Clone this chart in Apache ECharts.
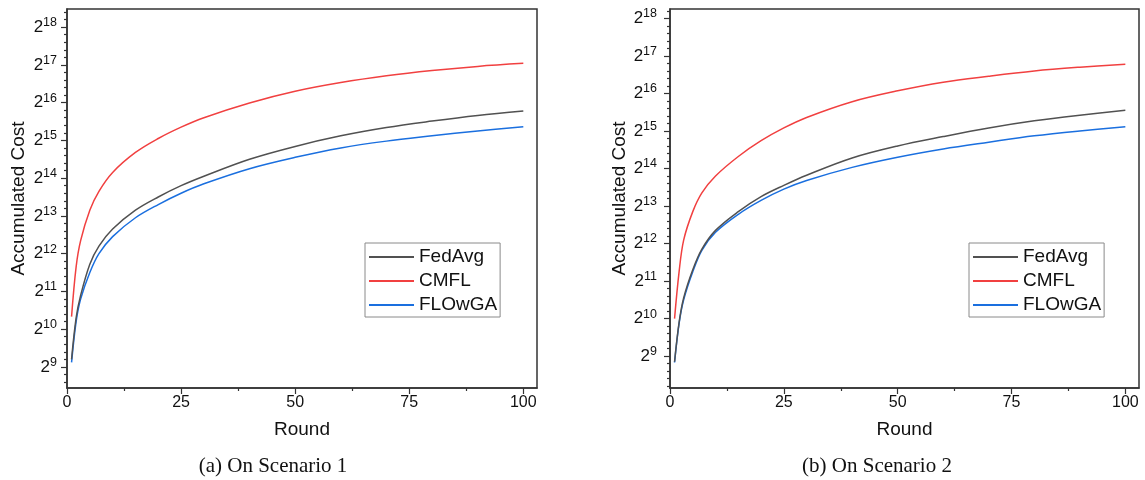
<!DOCTYPE html>
<html><head><meta charset="utf-8">
<script src="https://cdn.jsdelivr.net/npm/echarts@6/dist/echarts.min.js"></script>
<style>html,body{margin:0;padding:0;background:#fff}#c{width:1145px;height:480px}</style>
</head><body><div id="c"></div>
<script>
// Rounds sampled along the curves
const rounds = [1, 2, 3, 5, 7, 10, 15, 20, 25, 30, 40, 50, 60, 70, 80, 90, 100];
// (a) On Scenario 1 — accumulated cost
const fedAvgA = [588, 1261, 1911, 3374, 4705, 6427, 9090, 11585, 14263, 16962, 23170, 29329, 35609, 41478, 46665, 51777, 56266];
const cmflA   = [1287, 3214, 5221, 9090, 12855, 18180, 26249, 33925, 41766, 49667, 65085, 80681, 94627, 107204, 118129, 127487, 134755];
const flowgaA = [556, 1176, 1783, 2896, 4096, 5595, 7913, 10085, 12417, 14766, 19484, 23988, 28526, 32318, 35609, 38968, 42055];
// (b) On Scenario 2 — accumulated cost
const fedAvgB = [461, 955, 1499, 2521, 3691, 5221, 7383, 9742, 11994, 14462, 19894, 24833, 29532, 34636, 39512, 43840, 47976];
const cmflB   = [1024, 2435, 4360, 7383, 10441, 14263, 20452, 27365, 34636, 42055, 56266, 68793, 80681, 90145, 99333, 106463, 112532];
const flowgaB = [455, 936, 1448, 2435, 3616, 5043, 7033, 9090, 11190, 13124, 16728, 20170, 23495, 26616, 29947, 32768, 35363];

const seriesNames = ['FedAvg', 'CMFL', 'FLOwGA'];
const colors = ['#515151', '#F14040', '#1A6FDF'];
const xTicks = [0, 25, 50, 75, 100];
const xMinorTicks = [12.5, 37.5, 62.5, 87.5];
const yTickExps = [9, 10, 11, 12, 13, 14, 15, 16, 17, 18];
const captions = ['(a) On Scenario 1', '(b) On Scenario 2'];

const SANS = 'Liberation Sans, Arial, sans-serif';
const SERIF = 'Liberation Serif, Times New Roman, serif';
const AX = '#333';

const yMajor = yTickExps.map(e => Math.pow(2, e));
const yMinor = [];
for (let e = 8; e <= 18; e++) for (let k = 1; k <= 4; k++) yMinor.push(Math.pow(2, e + k / 5));

const panels = [
  {left: 67, right: 608, yMin: Math.pow(2, 8.44), yMax: Math.pow(2, 18.48), labMargin: 10, data: [fedAvgA, cmflA, flowgaA], legendLeft: 365, cap: 273},
  {left: 670, right: 6, yMin: Math.pow(2, 8.15), yMax: Math.pow(2, 18.25), labMargin: 13, data: [fedAvgB, cmflB, flowgaB], legendLeft: 969, cap: 877}
];

const grid = [], xAxis = [], yAxis = [], series = [], legend = [], title = [];
panels.forEach((p, gi) => {
  grid.push({left: p.left, right: p.right, top: 9, bottom: 92, show: true, borderColor: AX, borderWidth: 1.5, containLabel: false});
  xAxis.push({
    gridIndex: gi, type: 'value', min: 0, max: 103, position: 'bottom',
    axisLine: {lineStyle: {color: AX, width: 1.5}},
    axisTick: {customValues: xTicks, length: 6, lineStyle: {color: AX, width: 1.2}},
    axisLabel: {customValues: xTicks, fontSize: 16, color: '#111', margin: 7, fontFamily: SANS},
    splitLine: {show: false},
    name: 'Round', nameLocation: 'middle', nameGap: 32,
    nameTextStyle: {fontSize: 19, color: '#111', fontFamily: SANS}
  });
  xAxis.push({
    gridIndex: gi, type: 'value', min: 0, max: 103, position: 'bottom',
    axisLine: {show: false},
    axisTick: {customValues: xMinorTicks, length: 3, lineStyle: {color: AX, width: 1.2}},
    axisLabel: {show: false}, splitLine: {show: false}
  });
  yAxis.push({
    gridIndex: gi, type: 'log', logBase: 2, min: p.yMin, max: p.yMax, position: 'left',
    axisLine: {show: true, lineStyle: {color: AX, width: 1.5}},
    axisTick: {show: true, customValues: yMajor, length: 6, lineStyle: {color: AX, width: 1.2}},
    axisLabel: {
      customValues: yMajor, margin: p.labMargin, color: '#111',
      formatter: v => '{b|2}{s|' + Math.round(Math.log2(v)) + '}',
      rich: {
        b: {fontSize: 17, fontFamily: SANS, color: '#111'},
        s: {fontSize: 12.5, fontFamily: SANS, color: '#111', verticalAlign: 'top', padding: [0, 0, 9, 0]}
      }
    },
    splitLine: {show: false},
    name: 'Accumulated Cost', nameLocation: 'middle', nameGap: 39, nameRotate: 90,
    nameTextStyle: {fontSize: 19, color: '#111', fontFamily: SANS}
  });
  yAxis.push({
    gridIndex: gi, type: 'log', logBase: 2, min: p.yMin, max: p.yMax, position: 'left',
    axisLine: {show: false},
    axisTick: {show: true, customValues: yMinor.filter(v => v > p.yMin && v < p.yMax), length: 3, lineStyle: {color: AX, width: 1.2}},
    axisLabel: {show: false}, splitLine: {show: false}
  });
  p.data.forEach((arr, si) => {
    series.push({
      name: seriesNames[si], type: 'line', xAxisIndex: gi * 2, yAxisIndex: gi * 2,
      data: rounds.map((r, i) => [r, arr[i]]),
      symbol: 'none', smooth: 0.35,
      lineStyle: {color: colors[si], width: 1.5}, itemStyle: {color: colors[si]},
      z: si === 1 ? 3 : (si === 2 ? 4 : 5)
    });
  });
  legend.push({
    orient: 'vertical', left: p.legendLeft, top: 243, padding: [2, 3, 0, 3], itemGap: 0,
    itemWidth: 45, itemHeight: 2, borderColor: '#8a8a8a', borderWidth: 1,
    itemStyle: {opacity: 0},
    textStyle: {fontSize: 19, fontFamily: SANS, color: '#111', lineHeight: 24},
    data: seriesNames
  });
  title.push({
    text: captions[gi], left: p.cap, textAlign: 'center', top: 456, padding: 0,
    textStyle: {fontSize: 21, fontFamily: SERIF, fontWeight: 'normal', color: '#111'}
  });
});

const chart = echarts.init(document.getElementById('c'), null, {renderer: 'canvas'});
chart.setOption({animation: false, backgroundColor: '#fff', grid, xAxis, yAxis, series, legend, title});
</script>
</body></html>
